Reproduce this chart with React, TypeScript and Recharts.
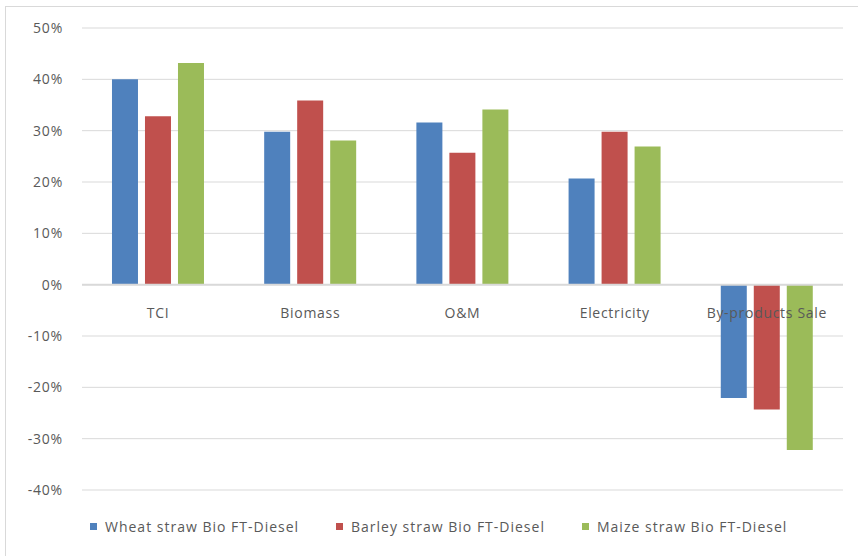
import {
  Bar,
  BarChart,
  CartesianGrid,
  ReferenceLine,
  XAxis,
  YAxis,
} from "recharts";

const CATEGORIES = ["TCI", "Biomass", "O&M", "Electricity", "By-products Sale"];
const WHEAT = [0.4, 0.298, 0.316, 0.207, -0.221];
const BARLEY = [0.328, 0.359, 0.257, 0.298, -0.243];
const MAIZE = [0.432, 0.281, 0.341, 0.269, -0.322];
const Y_TICKS = [-0.4, -0.3, -0.2, -0.1, 0, 0.1, 0.2, 0.3, 0.4, 0.5];

const SERIES = [
  { key: "wheat", name: "Wheat straw Bio FT-Diesel", color: "#4F81BD" },
  { key: "barley", name: "Barley straw Bio FT-Diesel", color: "#C0504D" },
  { key: "maize", name: "Maize straw Bio FT-Diesel", color: "#9BBB59" },
];

const W = 858;
const H = 556;
const TOP = 28;
const BOTTOM = 490;
const Y_MIN = -0.4;
const Y_MAX = 0.5;
const FONT = "'Open Sans', sans-serif";
const TEXT = "#595959";

// category labels sit just under the zero line rather than at the plot bottom
const zeroY = TOP + (Y_MAX / (Y_MAX - Y_MIN)) * (BOTTOM - TOP);

function CategoryTick(props: any) {
  const { x, payload } = props;
  return (
    <text
      x={x}
      y={zeroY + 33}
      textAnchor="middle"
      fill={TEXT}
      fontSize={14}
      fontFamily={FONT}
      letterSpacing={0.7}
    >
      {payload.value}
    </text>
  );
}

export default function App() {
  const rows = CATEGORIES.map((c, i) => ({
    name: c,
    wheat: WHEAT[i],
    barley: BARLEY[i],
    maize: MAIZE[i],
  }));
  return (
    <div
      style={{
        position: "absolute",
        left: 0,
        top: 0,
        width: W,
        height: H,
        background: "#fff",
        overflow: "hidden",
      }}
    >
      <div
        style={{
          position: "absolute",
          left: 5,
          top: 6,
          width: W + 20,
          height: H + 20,
          borderTop: "1px solid #d9d9d9",
          borderLeft: "1px solid #d9d9d9",
        }}
      />
      <BarChart
        width={W}
        height={H}
        data={rows}
        margin={{ top: TOP, right: 15, left: 0, bottom: H - BOTTOM - 30 }}
        barCategoryGap="19.7%"
        barGap={7}
        style={{ position: "absolute", left: 0, top: 0 }}
      >
        <CartesianGrid vertical={false} stroke="#d9d9d9" />
        <XAxis
          dataKey="name"
          height={30}
          axisLine={false}
          tickLine={false}
          tick={<CategoryTick />}
          interval={0}
        />
        <YAxis
          width={82}
          domain={[Y_MIN, Y_MAX]}
          ticks={Y_TICKS}
          axisLine={false}
          tickLine={false}
          tickSize={0}
          tickMargin={19}
          tick={{ fill: TEXT, fontSize: 14, fontFamily: FONT, letterSpacing: 0.8 }}
          tickFormatter={(v: number) => `${Math.round(v * 100)}%`}
        />
        <ReferenceLine y={0} stroke="#d9d9d9" strokeWidth={2} />
        {SERIES.map((s) => (
          <Bar
            key={s.key}
            dataKey={s.key}
            name={s.name}
            fill={s.color}
            isAnimationActive={false}
          />
        ))}
      </BarChart>
      <div
        style={{
          position: "absolute",
          left: 90,
          top: 517,
          display: "flex",
          fontFamily: FONT,
          fontSize: 14,
          letterSpacing: 1,
          color: TEXT,
        }}
      >
        {SERIES.map((s) => (
          <div
            key={s.key}
            style={{ width: 246, display: "flex", alignItems: "center" }}
          >
            <span
              style={{
                width: 7,
                height: 7,
                background: s.color,
                marginRight: 8,
                display: "inline-block",
              }}
            />
            <span>{s.name}</span>
          </div>
        ))}
      </div>
    </div>
  );
}
